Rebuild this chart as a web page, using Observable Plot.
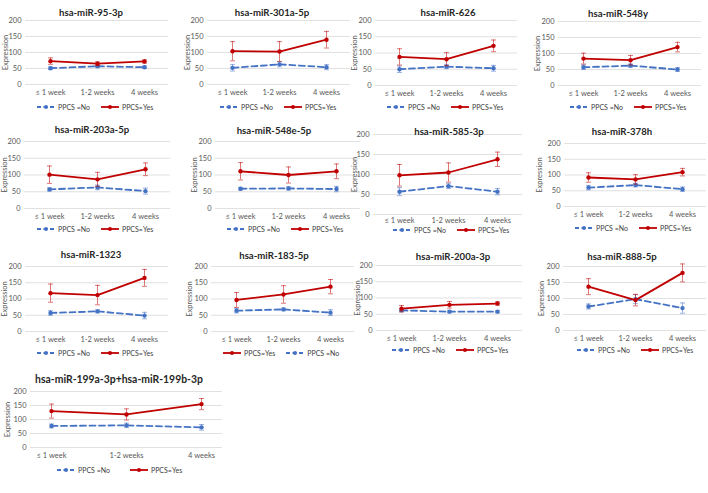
<!DOCTYPE html>
<html><head><meta charset="utf-8">
<script src="https://cdn.jsdelivr.net/npm/d3@7"></script>
<script src="https://cdn.jsdelivr.net/npm/@observablehq/plot@0.6"></script>
<style>
body{margin:0;background:#fff;font-family:Lato,"Open Sans",sans-serif;}
#root{position:relative;width:708px;height:493px;overflow:hidden;background:#fff;}
.title{position:absolute;font-weight:bold;font-size:9.6px;color:#262626;transform:translate(-50%,-50%);white-space:nowrap;}
.panel{position:absolute;}
.legend{position:absolute;display:flex;align-items:center;font-size:7px;color:#404040;transform:translateY(-50%);white-space:nowrap;}
.legend .item{display:flex;align-items:center;margin-right:11px;}
.legend svg{margin-right:3px;}
</style>
</head><body>
<div id="root"></div>
<script>
// ---------- data ----------
const mirnas = ["hsa-miR-95-3p","hsa-miR-301a-5p","hsa-miR-626","hsa-miR-548y",
  "hsa-miR-203a-5p","hsa-miR-548e-5p","hsa-miR-585-3p","hsa-miR-378h",
  "hsa-miR-1323","hsa-miR-183-5p","hsa-miR-200a-3p","hsa-miR-888-5p",
  "hsa-miR-199a-3p+hsa-miR-199b-3p"];
const weeks = ["≤ 1 week","1-2 weeks","4 weeks"];
const groups = ["PPCS =No","PPCS=Yes"];
const yTicks = [0,50,100,150,200];
const yLabel = "Expression";
const yesMean = [[73,65,72],[104,103,140],[88,81,122],[84,79,120],
  [101,87,117],[111,100,111],[98,105,138],[92,86,109],
  [118,112,165],[97,114,138],[67,79,83],[137,95,180],[130,118,155]];
const yesErr = [[10,6,5],[30,31,26],[25,20,18],[17,15,15],
  [26,21,19],[26,24,22],[27,24,18],[15,15,12],
  [28,30,26],[23,27,22],[10,10,5],[25,18,28],[25,20,20]];
const noMean = [[51,57,54],[52,63,54],[50,58,53],[57,62,50],
  [57,63,52],[59,60,58],[57,71,57],[60,68,55],
  [57,62,49],[64,68,58],[62,58,58],[75,98,70],[77,79,72]];
const noErr = [[4,4,4],[10,8,8],[10,6,9],[7,5,6],
  [5,7,9],[4,5,8],[10,6,8],[7,6,7],
  [7,5,10],[7,4,9],[4,3,3],[8,14,16],[7,8,10]];

// ---------- layout (positions only) ----------
const layout = [
  {gx0:25,gx1:168,yT:20,yB:84,tx:91,ty:12,ex:6,lx:37,ly:107},
  {gx0:207,gx1:350,yT:20,yB:84,tx:272,ty:12,ex:188,lx:220,ly:107},
  {gx0:375,gx1:517,yT:20,yB:85,tx:448,ty:12,ex:355,lx:387,ly:107},
  {gx0:558,gx1:701,yT:21,yB:85,tx:618,ty:13,ex:538,lx:570,ly:107},
  {gx0:24,gx1:170,yT:141,yB:208,tx:92,ty:129,ex:5,lx:37,ly:229},
  {gx0:215,gx1:360,yT:141,yB:208,tx:274,ty:130,ex:195,lx:227,ly:229},
  {gx0:373,gx1:522,yT:134,yB:214,tx:449,ty:131,ex:355,lx:393,ly:230,xpad:3},
  {gx0:564,gx1:706,yT:143,yB:206,tx:622,ty:131,ex:540,lx:575,ly:228},
  {gx0:25,gx1:168,yT:266,yB:331,tx:91,ty:254,ex:5,lx:37,ly:353},
  {gx0:211,gx1:354,yT:266,yB:331,tx:274,ty:255,ex:190,lx:223,ly:353,yesFirst:true},
  {gx0:376,gx1:522,yT:265,yB:330,tx:453,ty:256,ex:358,lx:392,ly:350},
  {gx0:563,gx1:706,yT:266,yB:330,tx:622,ty:256,ex:542,lx:577,ly:350},
  {gx0:30,gx1:222,yT:391,yB:447,tx:119,ty:379,ex:8,lx:57,ly:470,pad:0.27,tsize:10.4,lgap:20}
];
const RED = "#C00000", BLUE = "#4472C4";

const capSymbol = {draw(ctx, size){ ctx.moveTo(-2.5,0); ctx.lineTo(2.5,0); }};

const root = document.getElementById("root");

function legendItem(label, color, dashed, gap){
  const it = document.createElement("div");
  it.className = "item";
  if (gap) it.style.marginRight = gap + "px";
  it.innerHTML = `<svg width="18" height="6"><line x1="0" y1="3" x2="18" y2="3" stroke="${color}" stroke-width="1.8" ${dashed?'stroke-dasharray="4,2.5"':''}/><circle cx="9" cy="3" r="2" fill="${color}"/></svg><span>${label}</span>`;
  return it;
}

mirnas.forEach((name, i) => {
  const L = layout[i];
  const rows = [];
  weeks.forEach((w, j) => {
    rows.push({g: groups[0], week: w, m: noMean[i][j], e: noErr[i][j]});
    rows.push({g: groups[1], week: w, m: yesMean[i][j], e: yesErr[i][j]});
  });
  const no = rows.filter(d => d.g === groups[0]);
  const yes = rows.filter(d => d.g === groups[1]);
  const svgLeft = L.ex - 4;
  const mL = L.gx0 - svgLeft, mR = 2, mT = 6, mB = 18;
  const width = L.gx1 - svgLeft + mR;
  const height = mT + (L.yB - L.yT) + mB;
  const seriesMarks = (data, color, dashed) => [
    Plot.ruleX(data, {x: "week", y1: d => d.m - d.e, y2: d => d.m + d.e, stroke: color, strokeOpacity: 0.6, strokeWidth: 0.9}),
    Plot.dot(data, {x: "week", y: d => d.m + d.e, symbol: capSymbol, stroke: color, strokeOpacity: 0.6, strokeWidth: 0.9, fill: "none"}),
    Plot.dot(data, {x: "week", y: d => d.m - d.e, symbol: capSymbol, stroke: color, strokeOpacity: 0.6, strokeWidth: 0.9, fill: "none"}),
    Plot.line(data, {x: "week", y: "m", stroke: color, strokeWidth: 1.8, strokeDasharray: dashed ? "6,3.5" : null}),
    Plot.dot(data, {x: "week", y: "m", r: 2.2, fill: color})
  ];
  const plot = Plot.plot({
    width, height, marginLeft: mL, marginRight: mR, marginTop: mT, marginBottom: mB,
    style: {fontFamily: "Lato, 'Open Sans', sans-serif", fontSize: "7.5px", color: "#595959", background: "transparent", overflow: "visible"},
    x: {type: "point", domain: weeks, padding: L.pad ?? 0.5},
    y: {domain: [0, 200]},
    marks: [
      Plot.ruleY(yTicks, {stroke: "#d9d9d9", strokeWidth: 0.8}),
      Plot.axisY({ticks: yTicks, tickSize: 0, tickPadding: 4, label: yLabel, labelAnchor: "center", labelArrow: "none", labelOffset: mL}),
      Plot.axisX({tickSize: 0, tickPadding: L.xpad ?? 5, label: null}),
      ...seriesMarks(no, BLUE, true), ...seriesMarks(yes, RED, false)
    ]
  });
  const wrap = document.createElement("div");
  wrap.className = "panel";
  wrap.style.left = svgLeft + "px";
  wrap.style.top = (L.yT - mT) + "px";
  wrap.appendChild(plot);
  root.appendChild(wrap);

  const t = document.createElement("div");
  t.className = "title";
  t.textContent = name;
  t.style.left = L.tx + "px";
  t.style.top = L.ty + "px";
  if (L.tsize) t.style.fontSize = L.tsize + "px";
  root.appendChild(t);

  const lg = document.createElement("div");
  lg.className = "legend";
  lg.style.left = L.lx + "px";
  lg.style.top = L.ly + "px";
  const a = legendItem(groups[0], BLUE, true, L.lgap), b = legendItem(groups[1], RED, false, L.lgap);
  if (L.yesFirst) { lg.appendChild(b); lg.appendChild(a); } else { lg.appendChild(a); lg.appendChild(b); }
  root.appendChild(lg);
});
</script>
</body></html>
